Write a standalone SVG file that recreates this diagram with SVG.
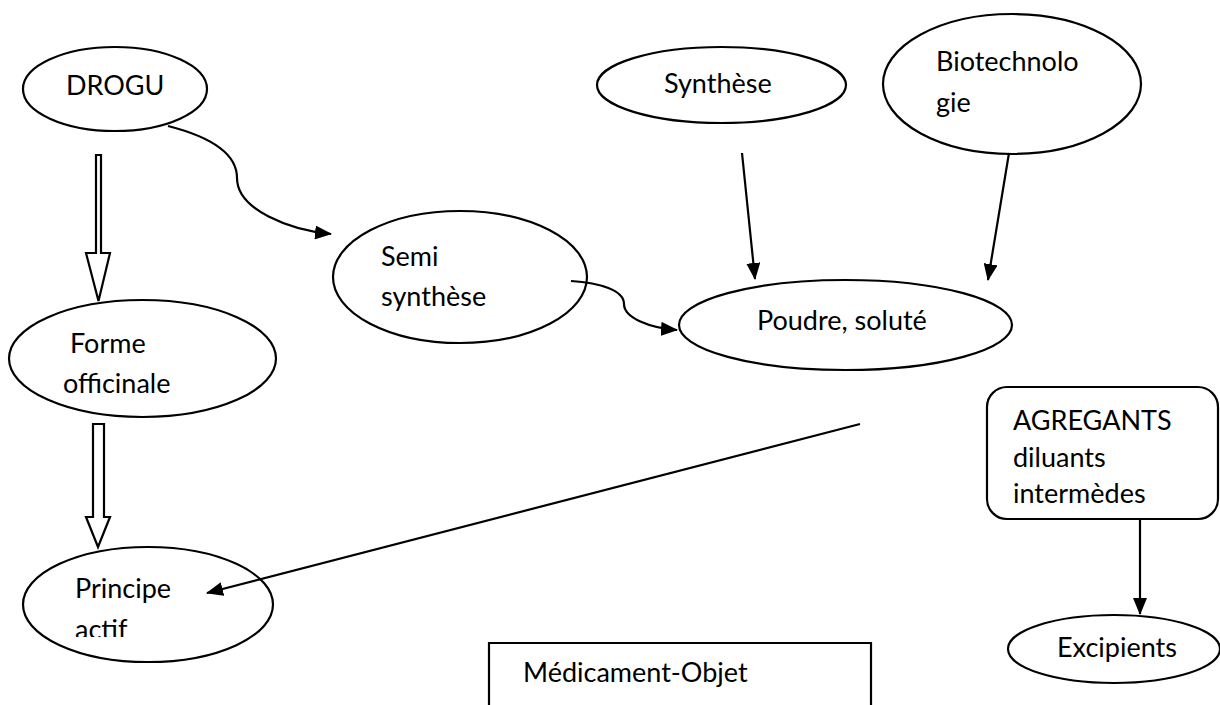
<svg xmlns="http://www.w3.org/2000/svg" width="1220" height="705" viewBox="0 0 1220 705">
<style>
.s{fill:#fff;stroke:#000;stroke-width:2.2}
.t{font-family:Lato,"Open Sans",sans-serif;font-size:27px;fill:#000}
.c{fill:none;stroke:#000;stroke-width:2.2}
.d{fill:#fff;stroke:#000;stroke-width:2.2;stroke-linejoin:miter}
</style>
<defs>
<marker id="ah" markerUnits="userSpaceOnUse" markerWidth="18" markerHeight="14" refX="16" refY="7" orient="auto">
<path d="M0,0 L17,7 L0,14 Z" fill="#000"/>
</marker>
<clipPath id="cut"><rect x="0" y="0" width="300" height="637"/></clipPath>
</defs>
<rect width="1220" height="705" fill="#fff"/>
<g id="drogu"><ellipse class="s" cx="115" cy="89" rx="92" ry="42"/><text class="t" x="66" y="95">DROGU</text></g>
<g id="semi"><ellipse class="s" cx="460" cy="277" rx="127" ry="66"/><text class="t" x="381" y="266">Semi</text><text class="t" x="381" y="306">synthèse</text></g>
<g id="forme"><ellipse class="s" cx="142.5" cy="358.5" rx="133.5" ry="58.5"/><text class="t" x="70" y="353">Forme</text><text class="t" x="63" y="393">officinale</text></g>
<g id="principe"><ellipse class="s" cx="148" cy="604.5" rx="125" ry="57.5"/><text class="t" x="75" y="598">Principe</text><text class="t" x="75" y="639" clip-path="url(#cut)">actif</text></g>
<g id="synthese"><ellipse class="s" cx="721.5" cy="85" rx="124.5" ry="38"/><text class="t" x="664" y="93">Synthèse</text></g>
<g id="biotech"><ellipse class="s" cx="1012" cy="84" rx="129" ry="70"/><text class="t" x="936" y="71">Biotechnolo</text><text class="t" x="936" y="112">gie</text></g>
<g id="poudre"><ellipse class="s" cx="845.5" cy="325" rx="166.5" ry="45"/><text class="t" x="757" y="330">Poudre, soluté</text></g>
<g id="agregants"><rect class="s" x="987" y="387" width="231" height="132" rx="20" ry="20"/><text class="t" x="1013" y="430">AGREGANTS</text><text class="t" x="1013" y="467">diluants</text><text class="t" x="1013" y="503">intermèdes</text></g>
<g id="excipients"><ellipse class="s" cx="1114" cy="649" rx="106" ry="34"/><text class="t" x="1057" y="657">Excipients</text></g>
<g id="medicament"><path class="c" d="M489,706 V643 H871 V706"/><text class="t" x="523" y="682">Médicament-Objet</text></g>
<g id="connectors">
<path class="d" d="M96,155 H101 V253 H110 L98.5,301 L86,253 H96 Z"/>
<path class="d" d="M93,424 H104 V517 H110 L98,547 L86,517 H93 Z"/>
<path class="c" d="M168,126 C215,138 237,156 237,178 C237,210 290,230 331,234" marker-end="url(#ah)"/>
<path class="c" d="M571,281 C600,283 624,290 624,304 C624,318 650,328 677,330" marker-end="url(#ah)"/>
<line class="c" x1="742" y1="153" x2="755" y2="279" marker-end="url(#ah)"/>
<line class="c" x1="1009" y1="153" x2="988" y2="280" marker-end="url(#ah)"/>
<line class="c" x1="860" y1="424" x2="207" y2="593" marker-end="url(#ah)"/>
<line class="c" x1="1140" y1="519" x2="1140" y2="614" marker-end="url(#ah)"/>
</g>
</svg>
